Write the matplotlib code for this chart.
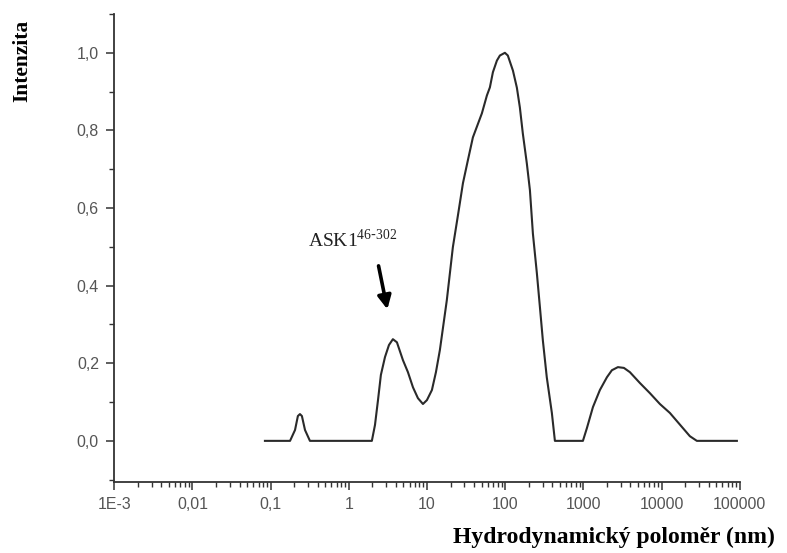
import matplotlib.pyplot as plt
from matplotlib.ticker import LogLocator, MultipleLocator, NullFormatter

# hydrodynamic radius (nm) and intensity
radius = [0.0845, 0.177, 0.205, 0.223, 0.237, 0.251, 0.275, 0.318,
          1.97, 2.16, 2.36, 2.57, 2.90, 3.26, 3.66, 4.12, 4.92, 5.70, 6.61, 7.65,
          8.87, 9.97, 11.55, 13.0, 14.6, 17.9, 21.4, 24.8, 28.8, 33.3,
          38.6, 50.3, 58.3, 63.7, 69.6, 78.3, 85.5, 99.1, 108, 125.6,
          141, 154, 168, 189, 207, 226, 254, 278, 303, 340,
          395, 432, 986, 1109, 1324, 1625, 2000, 2313, 2762, 3296,
          3933, 5284, 7083, 9510, 12760, 18710, 23000, 28250, 91800]
intensity = [0.0, 0.0, 0.028, 0.064, 0.069, 0.064, 0.028, 0.0,
             0.0, 0.041, 0.105, 0.17, 0.216, 0.247, 0.262, 0.254, 0.208, 0.177, 0.138, 0.110,
             0.095, 0.105, 0.131, 0.177, 0.234, 0.362, 0.499, 0.58, 0.664, 0.723,
             0.782, 0.844, 0.89, 0.911, 0.95, 0.980, 0.993, 1.0, 0.993, 0.954,
             0.91, 0.859, 0.792, 0.715, 0.646, 0.534, 0.432, 0.344, 0.259, 0.164,
             0.072, 0.0, 0.0, 0.033, 0.087, 0.131, 0.164, 0.182, 0.190, 0.188,
             0.177, 0.149, 0.123, 0.095, 0.072, 0.033, 0.012, 0.0, 0.0]

xticks = [1e-3, 1e-2, 1e-1, 1, 10, 100, 1000, 10000, 100000]
xlabels = ['1E-3', '0,01', '0,1', '1', '10', '100', '1000', '10000', '100000']
yticks = [0.0, 0.2, 0.4, 0.6, 0.8, 1.0]
ylabels = ['0,0', '0,2', '0,4', '0,6', '0,8', '1,0']

fig = plt.figure(figsize=(7.87, 5.53), dpi=100)
ax = fig.add_axes([0.1452, 0.1284, 0.7948, 0.8463])

ax.plot(radius, intensity, color='#2a2a2a', linewidth=1.5)

ax.set_xscale('log')
ax.set_xlim(1e-3, 1e5)
ax.set_ylim(-0.106, 1.1)

ax.set_xticks(xticks)
ax.set_xticklabels(xlabels)
ax.xaxis.set_minor_locator(LogLocator(base=10, subs=range(2, 10), numticks=20))
ax.xaxis.set_minor_formatter(NullFormatter())
ax.set_yticks(yticks)
ax.set_yticklabels(ylabels)
ax.yaxis.set_minor_locator(MultipleLocator(0.1))

for s in ['top', 'right']:
    ax.spines[s].set_visible(False)
for s in ['left', 'bottom']:
    ax.spines[s].set_color('#333333')
    ax.spines[s].set_linewidth(1.3)

ax.tick_params(which='major', direction='out', length=6, width=1.1,
               color='#333333', labelcolor='#555555', labelsize=11.5,
               pad=5)
ax.tick_params(which='minor', direction='out', length=3.5, width=1.0,
               color='#333333')
for lab in ax.get_xticklabels() + ax.get_yticklabels():
    lab.set_family('Liberation Sans')

# annotation for the ASK1 peak
ax.text(0.30, 0.5, r'ASK1$^{\mathregular{46\text{-}302}}$', fontsize=14,
        family='Liberation Serif', color='#222222')
ax.annotate('', xy=(3.16, 0.332), xytext=(2.36, 0.458),
            arrowprops=dict(arrowstyle='-|>', color='black', lw=2.6,
                            mutation_scale=20))

fig.text(0.028, 0.89, 'Intenzita', rotation=90, ha='center', va='center',
         family='Liberation Serif', fontweight='bold', fontsize=15.5)
fig.text(0.985, 0.028, 'Hydrodynamický poloměr (nm)', ha='right', va='center',
         family='Liberation Serif', fontweight='bold', fontsize=17)

plt.savefig('out.png', dpi=100)
